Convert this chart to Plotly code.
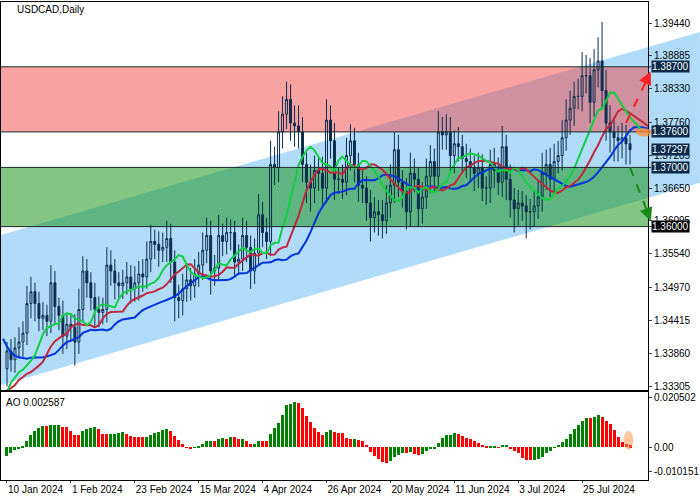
import numpy as np
import pandas as pd
import plotly.graph_objects as go
from plotly.subplots import make_subplots

# closes before the visible window (only used to warm up the indicators)
warmup_close = [1.3700, 1.3720, 1.3690, 1.3680, 1.3660, 1.3650,
                1.3650, 1.3640, 1.3600, 1.3590, 1.3570, 1.3550, 1.3560, 1.3580, 1.3570, 1.3590,
                1.3560, 1.3570, 1.3520, 1.3450, 1.3390, 1.3380, 1.3360, 1.3350, 1.3330, 1.3310,
                1.3320, 1.3290, 1.3260, 1.3240, 1.3230, 1.3220, 1.3240, 1.3270, 1.3310, 1.3350,
                1.3355, 1.3370, 1.3400, 1.3380]

first_open = 1.3360
close = [
    1.3390, 1.3375, 1.3395, 1.3405, 1.3420, 1.3470, 1.3490, 1.3470, 1.3445, 1.3450,
    1.3440, 1.3505, 1.3465, 1.3450, 1.3415, 1.3435, 1.3430, 1.3405, 1.3460, 1.3525,
    1.3505, 1.3480, 1.3460, 1.3455, 1.3460, 1.3535, 1.3525, 1.3505, 1.3500, 1.3505,
    1.3515, 1.3495, 1.3505, 1.3520, 1.3515, 1.3545, 1.3575, 1.3570, 1.3560, 1.3565,
    1.3580, 1.3540, 1.3480, 1.3475, 1.3495, 1.3510, 1.3500, 1.3520, 1.3535, 1.3560,
    1.3585, 1.3525, 1.3530, 1.3585, 1.3575, 1.3590, 1.3590, 1.3540, 1.3545, 1.3585,
    1.3565, 1.3525, 1.3555, 1.3620, 1.3590, 1.3575, 1.3705, 1.3700, 1.3760, 1.3790,
    1.3815, 1.3775, 1.3770, 1.3760, 1.3705, 1.3675, 1.3665, 1.3695, 1.3690, 1.3665,
    1.3780, 1.3745, 1.3680, 1.3680, 1.3675, 1.3720, 1.3745, 1.3705, 1.3670, 1.3665,
    1.3640, 1.3615, 1.3625, 1.3620, 1.3610, 1.3640, 1.3670, 1.3730, 1.3675, 1.3660,
    1.3625, 1.3690, 1.3680, 1.3630, 1.3650, 1.3685, 1.3710, 1.3685, 1.3760, 1.3755,
    1.3760, 1.3720, 1.3740, 1.3735, 1.3715, 1.3710, 1.3700, 1.3690, 1.3700, 1.3665,
    1.3665, 1.3705, 1.3695, 1.3675, 1.3735, 1.3680, 1.3645, 1.3630, 1.3640, 1.3635,
    1.3625, 1.3625, 1.3635, 1.3650, 1.3690, 1.3705, 1.3680, 1.3710, 1.3720, 1.3750,
    1.3780, 1.3800, 1.3820, 1.3820, 1.3855, 1.3855, 1.3810, 1.3865, 1.3880, 1.3830,
    1.3775, 1.3760, 1.3750, 1.3745, 1.3750, 1.3740, 1.3730]

# wick lengths in pips
up_wick = [15, 20, 18, 25, 20, 30, 25, 15, 20, 22, 18, 30, 20, 15, 25, 20, 18, 22, 35, 25,
           20, 18, 25, 22, 20, 30, 25, 20, 18, 22, 25, 20, 28, 22, 25, 30, 28, 20, 22, 25,
           30, 25, 20, 22, 25, 28, 20, 25, 22, 30, 30, 25, 22, 35, 20, 25, 22, 20, 25, 30,
           25, 20, 25, 35, 22, 25, 40, 30, 35, 30, 30, 25, 30, 35, 25, 20, 30, 25, 22, 28,
           35, 25, 30, 20, 25, 30, 28, 22, 20, 25, 20, 22, 25, 20, 25, 30, 35, 30, 25, 20,
           22, 35, 25, 20, 25, 30, 28, 22, 35, 25, 30, 25, 22, 28, 20, 25, 22, 20, 25, 22,
           20, 25, 28, 22, 35, 20, 25, 20, 22, 20, 18, 22, 25, 30, 35, 25, 28, 30, 25, 30,
           35, 30, 25, 30, 40, 35, 30, 35, 40, 66, 35, 30, 25, 20, 25, 22, 15]
down_wick = [30, 20, 22, 18, 25, 20, 25, 30, 22, 20, 25, 20, 30, 25, 30, 22, 25, 40, 20, 22,
             25, 22, 30, 25, 20, 22, 25, 28, 20, 22, 20, 25, 22, 30, 25, 20, 22, 25, 28, 20,
             25, 35, 40, 30, 25, 22, 25, 20, 22, 25, 22, 40, 25, 20, 25, 22, 30, 25, 22, 20,
             25, 30, 22, 20, 25, 30, 25, 30, 25, 28, 25, 30, 35, 28, 30, 35, 40, 25, 30, 28,
             25, 30, 35, 25, 28, 22, 25, 30, 28, 25, 30, 40, 25, 35, 30, 22, 25, 30, 25, 28,
             30, 25, 22, 30, 25, 20, 28, 25, 22, 25, 25, 28, 30, 25, 22, 28, 25, 30, 25, 22,
             28, 25, 30, 22, 25, 35, 30, 40, 28, 25, 45, 30, 25, 22, 25, 28, 30, 22, 20, 25,
             22, 25, 30, 22, 25, 30, 35, 25, 30, 30, 30, 35, 40, 35, 30, 35, 25]

date_labels = ["10 Jan 2024", "1 Feb 2024", "23 Feb 2024", "15 Mar 2024", "4 Apr 2024",
               "26 Apr 2024", "20 May 2024", "11 Jun 2024", "3 Jul 2024", "25 Jul 2024"]

resistance_zone = [1.3760, 1.3870]
support_zone = [1.3600, 1.3700]
channel_top = [1.3586, 1.3929]      # at left edge / right edge of the window
channel_bottom = [1.3332, 1.3674]
price_ticks = [1.39440, 1.38885, 1.38330, 1.37760, 1.37205, 1.36650, 1.36095,
               1.35540, 1.34970, 1.34415, 1.33860, 1.33305]
level_tags = [1.38700, 1.37600, 1.37297, 1.37000]
ao_ticks = [0.020502, 0.0, -0.010151]
ao_label = "AO 0.002587"

# ---- derived series
n = len(close)
c = np.array(close)
o = np.r_[first_open, c[:-1]]
h = np.maximum(o, c) + np.array(up_wick) / 10000
l = np.minimum(o, c) - np.array(down_wick) / 10000
x = np.arange(n)

allc = pd.Series(warmup_close + close)
nw = len(warmup_close)

def smma(period, shift):
    s = allc.ewm(alpha=1 / period, adjust=False).mean().to_numpy()
    xs = np.arange(len(s)) - nw + shift
    m = xs >= -1.5
    return xs[m], s[m]

ao_full = allc.rolling(5).mean() - allc.rolling(34).mean()
ao = ao_full.to_numpy()[nw:]
ao_prev = ao_full.to_numpy()[nw - 1:-1]
ao_col = np.where(ao >= ao_prev, "#008000", "#ff0000")

fig = make_subplots(rows=2, cols=1, shared_xaxes=True)

fig.add_trace(go.Candlestick(
    x=x, open=o, high=h, low=l, close=c, whiskerwidth=0,
    increasing=dict(line=dict(color="#0b2d4e", width=1), fillcolor="rgba(0,0,0,0)"),
    decreasing=dict(line=dict(color="#0b2d4e", width=1), fillcolor="#0b2d4e"),
    showlegend=False, hoverinfo="skip"), row=1, col=1)

for period, sh, col in [(13, 8, "#0033dd"), (8, 5, "#c0283c"), (5, 3, "#10d040")]:
    xs, s = smma(period, sh)
    fig.add_trace(go.Scatter(x=xs, y=s, mode="lines", line=dict(color=col, width=2),
                             showlegend=False, hoverinfo="skip"), row=1, col=1)

fig.add_trace(go.Bar(x=x, y=ao, marker_color=ao_col, marker_line_width=0, width=0.75,
                     showlegend=False, hoverinfo="skip"), row=2, col=1)

xr = [-1.5, 160.5]
plot_w = 648
def px_paper(i):
    return (i - xr[0]) / (xr[1] - xr[0])
right_edge = 700 / plot_w

shapes = []
shapes.append(dict(type="path", xref="paper", yref="y", layer="below", line_width=0,
                   fillcolor="#b0dcfa",
                   path=f"M 0 {channel_bottom[0]} L {right_edge} {channel_bottom[1]} "
                        f"L {right_edge} {channel_top[1]} L 0 {channel_top[0]} Z"))
for zone, col in [(resistance_zone, "rgba(240,60,60,0.48)"),
                  (support_zone, "rgba(30,150,30,0.55)")]:
    shapes.append(dict(type="rect", xref="paper", yref="y", x0=0, x1=1, y0=zone[0], y1=zone[1],
                       fillcolor=col, line_width=0, layer="below"))
    for lv in zone:
        shapes.append(dict(type="line", xref="paper", yref="y", x0=0, x1=1.005, y0=lv, y1=lv,
                           line=dict(color="#1a2a2a", width=1)))

# forecast arrows
arrows = [((155, 1.3775), (161.2, 1.3862), "#ff2020"),
          ((156, 1.3700), (161.2, 1.3610), "#1a8a1a")]
annotations = []
yr = [1.33237, 1.39795]
main_h = 388
for (i0, p0), (i1, p1), col in arrows:
    dx = (i1 - i0) * 4
    dy = -(p1 - p0) / (yr[1] - yr[0]) * main_h
    d = np.hypot(dx, dy)
    k = 1 - 8 / d
    shapes.append(dict(type="line", xref="paper", yref="y", x0=px_paper(i0), y0=p0,
                       x1=px_paper(i0 + (i1 - i0) * k), y1=p0 + (p1 - p0) * k,
                       line=dict(color=col, width=2, dash="dash")))
    annotations.append(dict(xref="paper", yref="y", x=px_paper(i1), y=p1, text="",
                            showarrow=True, arrowhead=2, arrowsize=1.3, arrowwidth=2,
                            arrowcolor=col, ax=-dx / d * 10, ay=-dy / d * 10))

# highlight ellipses
xs_b, s_b = smma(13, 8)
shapes.append(dict(type="circle", xref="paper", yref="y", x0=px_paper(157.5), x1=px_paper(161.5),
                   y0=s_b[-1] - 0.0007, y1=s_b[-1] + 0.0007,
                   fillcolor="rgba(255,140,60,0.75)", line_width=0))
shapes.append(dict(type="circle", xref="paper", yref="y2", x0=px_paper(n - 2.6), x1=px_paper(n - 0.2),
                   y0=-0.0008, y1=0.0068,
                   fillcolor="rgba(255,140,60,0.5)", line_width=0))

tag_font = dict(color="white", size=10, family="Liberation Sans")
for lv in level_tags:
    annotations.append(dict(xref="paper", yref="y", x=1.004, y=lv, xanchor="left",
                            text=f"{lv:.5f}", showarrow=False, bgcolor="#0b2a4a",
                            font=tag_font, borderpad=0))
annotations.append(dict(xref="paper", yref="y", x=1.004, y=support_zone[0], xanchor="left",
                        text=f"{support_zone[0]:.5f}", showarrow=False, bgcolor="black",
                        font=tag_font, borderpad=0))
annotations.append(dict(xref="paper", yref="paper", x=0.022, y=1.0, xanchor="left",
                        yanchor="top", text="USDCAD,Daily", showarrow=False,
                        font=dict(size=10, color="black", family="Liberation Sans")))
annotations.append(dict(xref="x2 domain", yref="y2 domain", x=0.005, y=0.97, xanchor="left",
                        yanchor="top", text=ao_label, showarrow=False,
                        font=dict(size=10, color="black", family="Liberation Sans")))

axis_common = dict(showline=True, linecolor="black", linewidth=1, mirror=True,
                   showgrid=False, zeroline=False)
tick_font = dict(size=10, family="Liberation Sans", color="black")
fig.update_xaxes(range=xr, rangeslider_visible=False, **axis_common)
fig.update_xaxes(tickvals=list(range(0, 16 * len(date_labels), 16)), ticktext=date_labels,
                 ticks="outside", ticklen=2, ticklabelposition="outside right", tickangle=0,
                 tickfont=tick_font, row=2, col=1)
fig.update_yaxes(side="right", range=yr, tickvals=price_ticks, domain=[0.188, 1],
                 ticktext=[f"{v:.5f}" for v in price_ticks], ticks="outside", ticklen=3,
                 tickfont=tick_font, **axis_common, row=1, col=1)
fig.update_yaxes(side="right", range=[-0.01346, 0.0229], tickvals=ao_ticks, domain=[0, 0.184],
                 ticktext=["0.020502", "0.00", "-0.010151"], ticks="outside", ticklen=3,
                 tickfont=tick_font, **axis_common, row=2, col=1)

fig.update_layout(width=700, height=500, margin=dict(l=1, r=52, t=2, b=20),
                  paper_bgcolor="white", plot_bgcolor="white", shapes=shapes,
                  annotations=annotations, bargap=0, showlegend=False)
fig.write_html("out.html", config={"displayModeBar": False},
               post_script="document.body.style.margin='0';")
